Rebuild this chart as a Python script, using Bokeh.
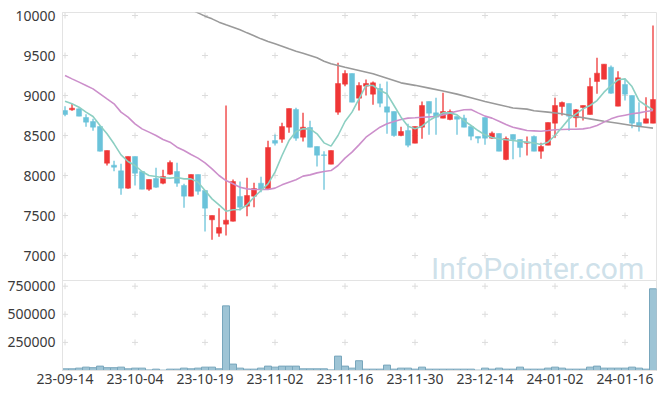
from bokeh.plotting import figure
from bokeh.models import Range1d, ColumnDataSource, Label, FixedTicker, Span
from bokeh.embed import file_html
from bokeh.resources import INLINE

# ---------------- data ----------------
opens = [8812, 8821, 8833, 8725, 8675, 8612, 8154, 8129, 8058, 7842, 8238, 8050, 7829, 7962, 7904, 8017, 8050,
         7875, 7742, 8012, 7812, 7446, 7279, 7392, 7429, 7737, 7617, 7742, 7904, 7833, 8437, 8454, 8604, 8825,
         8479, 8600, 8362, 8258, 8142, 8792, 9142, 9275, 8967, 9117, 9017, 9087, 8858, 8800, 8500, 8562, 8404,
         8604, 8925, 8783, 8717, 8700, 8737, 8717, 8612, 8487, 8725, 8467, 8525, 8200, 8512, 8450, 8404, 8488,
         8304, 8379, 8654, 8862, 8900, 8721, 8850, 8762, 9175, 9204, 9354, 8867, 9137, 9000, 8662, 8654, 8654]
highs = [8867, 8896, 8840, 8767, 8708, 8625, 8312, 8183, 8146, 8238, 8238, 8050, 7950, 8096, 8071, 8188, 8158,
         7896, 8012, 8012, 7812, 7500, 7592, 8875, 7950, 7925, 7971, 7908, 7983, 8433, 8512, 8658, 8837, 8846,
         8783, 8683, 8362, 8304, 8312, 9408, 9317, 9275, 9167, 9200, 9175, 9146, 9175, 8800, 8608, 8646, 8612,
         8925, 8925, 8971, 9033, 8825, 8737, 8758, 8612, 8487, 8725, 8550, 8525, 8488, 8512, 8450, 8488, 8500,
         8408, 8662, 8971, 8925, 8900, 8830, 8875, 9221, 9471, 9392, 9375, 9304, 9212, 9000, 8917, 8979, 9875]
lows = [8742, 8808, 8740, 8608, 8558, 8300, 8125, 8054, 7758, 7833, 7875, 7829, 7808, 7846, 7892, 8008, 7858,
        7596, 7742, 7758, 7300, 7196, 7233, 7250, 7425, 7562, 7492, 7604, 7792, 7833, 8375, 8408, 8533, 8433,
        8425, 8354, 8112, 7821, 8142, 8758, 9117, 8917, 8812, 9000, 8883, 8854, 8521, 8483, 8492, 8354, 8404,
        8458, 8508, 8508, 8717, 8690, 8508, 8604, 8442, 8404, 8383, 8458, 8304, 8192, 8204, 8229, 8250, 8304,
        8208, 8379, 8471, 8750, 8558, 8604, 8687, 8762, 9021, 9204, 9021, 8867, 8937, 8592, 8550, 8654, 8654]
closes = [8762, 8842, 8742, 8667, 8604, 8304, 8312, 8104, 7842, 8238, 8029, 7829, 7950, 7854, 7988, 8162, 7904,
          7742, 8012, 7804, 7592, 7500, 7350, 7442, 7925, 7604, 7750, 7837, 7825, 8350, 8404, 8612, 8837, 8467,
          8604, 8354, 8254, 8250, 8312, 9150, 9275, 8917, 9125, 9150, 9158, 8904, 8792, 8500, 8550, 8379, 8612,
          8875, 8779, 8729, 8800, 8800, 8704, 8604, 8492, 8467, 8467, 8529, 8304, 8462, 8450, 8350, 8417, 8304,
          8362, 8662, 8875, 8912, 8742, 8821, 8875, 9112, 9279, 9392, 9029, 9221, 9017, 8654, 8612, 8708, 8950]
volumes = [15000, 15000, 21000, 30000, 25000, 39000, 25000, 25000, 30000, 15000, 21000, 21000,
           5000, 12000, 3000, 12000, 12000, 21000, 15000, 21000, 30000, 30000, 15000, 575000,
           57000, 21000, 12000, 12000, 21000, 39000, 30000, 39000, 39000, 39000, 15000, 15000, 15000, 15000, 5000,
           128000, 39000, 21000, 87000, 12000, 12000, 12000, 48000, 12000, 21000, 21000, 12000,
           30000, 12000, 12000, 12000, 12000, 12000, 12000, 12000, 3000, 21000, 12000, 21000,
           12000, 12000, 30000, 12000, 12000, 12000, 21000, 30000, 21000, 12000, 12000, 12000,
           30000, 39000, 21000, 21000, 21000, 21000, 30000, 21000, 12000, 727000]
ma5 = [8929, 8896, 8854, 8792, 8737, 8625, 8521, 8396, 8258, 8175, 8125, 8050, 8000, 7987, 7971, 7967, 7975,
       7958, 7958, 7917, 7812, 7708, 7633, 7554, 7571, 7575, 7633, 7729, 7812, 7896, 8042, 8250, 8437, 8550,
       8583, 8583, 8521, 8408, 8367, 8500, 8675, 8792, 8958, 9125, 9125, 9062, 9021, 8875, 8729, 8617, 8583,
       8617, 8687, 8737, 8783, 8783, 8758, 8687, 8625, 8562, 8508, 8475, 8458, 8446, 8437, 8425, 8417, 8406,
       8387, 8417, 8500, 8604, 8708, 8771, 8833, 8875, 8937, 9042, 9125, 9196, 9208, 9112, 8937, 8875, 8821]
ma20 = [9250, 9208, 9167, 9125, 9083, 9021, 8958, 8896, 8792, 8729, 8646, 8583, 8542, 8500, 8450, 8417, 8354,
        8312, 8262, 8217, 8158, 8083, 8000, 7937, 7896, 7854, 7833, 7825, 7825, 7825, 7842, 7883, 7917, 7946,
        7992, 8008, 8033, 8050, 8062, 8125, 8217, 8292, 8383, 8479, 8542, 8604, 8646, 8675, 8700, 8717, 8721,
        8729, 8733, 8737, 8758, 8783, 8804, 8821, 8825, 8783, 8742, 8717, 8679, 8637, 8604, 8583, 8562, 8558,
        8554, 8562, 8571, 8575, 8579, 8579, 8583, 8596, 8625, 8667, 8708, 8737, 8754, 8771, 8783, 8800, 8812]
ma60_idx = [18, 19, 20, 21, 22, 23, 24, 25, 26, 27, 28, 29, 30, 31, 32, 33, 34, 35, 36, 37, 38, 39, 40,
            42, 44, 46, 48, 50, 52, 54, 56, 58, 60, 62, 64, 66, 67, 69, 71, 73, 75, 77, 79, 81, 83, 84]
ma60 = [10075, 10033, 9992, 9958, 9917, 9883, 9854, 9821, 9783, 9746, 9708, 9675, 9646, 9617, 9583, 9554,
        9529, 9500, 9471, 9429, 9396, 9375, 9352, 9312, 9271, 9217, 9158, 9127, 9092, 9056, 9017, 8971, 8925,
        8885, 8844, 8830, 8810, 8792, 8771, 8737, 8708, 8679, 8654, 8625, 8604, 8592]
tick_positions = [0, 10, 20, 30, 40, 50, 60, 70, 80]
tick_labels = ["23-09-14", "23-10-04", "23-10-19", "23-11-02", "23-11-16",
               "23-11-30", "23-12-14", "24-01-02", "24-01-16"]
price_ticks = [7000, 7500, 8000, 8500, 9000, 9500, 10000]
volume_ticks = [250000, 500000, 750000]
watermark = "InfoPointer.com"

# ---------------- styling / layout ----------------
RED = "#ef3636"
BLUE = "#6ac3da"
FONT = "Noto Sans"
LABEL_COLOR = "#3a3a3a"
LINE_COLOR = "#e3e3e3"

PRICE_LO, PRICE_HI = 5562.5, 10037.5     # whole frame in price units
PANEL_SPLIT = 6687.5                      # price value at the panel divider
VOL_HI = 3185000                          # whole frame in volume units

idx = list(range(len(closes)))
colors = [RED if c >= o else BLUE for o, c in zip(opens, closes)]
tops = [max(o, c) for o, c in zip(opens, closes)]
bottoms = [min(o, c) for o, c in zip(opens, closes)]
src = ColumnDataSource(dict(x=idx, h=highs, l=lows, top=tops, bottom=bottoms, color=colors,
                            vol=volumes, ma5=ma5, ma20=ma20))

p = figure(frame_width=594, frame_height=358, min_border_left=62, min_border_right=9,
           min_border_top=12, min_border_bottom=26, x_range=Range1d(-0.36, 84.5),
           y_range=Range1d(PRICE_LO, PRICE_HI), output_backend="svg", toolbar_location=None,
           background_fill_color="white")
p.extra_y_ranges = {"vol": Range1d(0, VOL_HI)}
p.xgrid.grid_line_color = None
p.ygrid.grid_line_color = None
p.outline_line_color = LINE_COLOR

# panel divider
p.add_layout(Span(location=PANEL_SPLIT, dimension="width", line_color=LINE_COLOR, line_width=1))

# grid crosses
cx = [t for t in tick_positions for _ in price_ticks]
cy = [val for _ in tick_positions for val in price_ticks]
p.scatter(cx, cy, marker="cross", size=6, line_color="#dcdcdc", line_width=1)
vx = [t for t in tick_positions for _ in volume_ticks]
vy = [val for _ in tick_positions for val in volume_ticks]
p.scatter(vx, vy, marker="cross", size=6, line_color="#dcdcdc", line_width=1, y_range_name="vol")

# candles
p.segment(x0="x", y0="l", x1="x", y1="h", source=src, line_color="color", line_width=1.3)
p.vbar(x="x", top="top", bottom="bottom", width=0.72, source=src, fill_color="color", line_color="color",
       line_width=0.5)

# moving averages
p.line(ma60_idx, ma60, line_color="#9a9a9a", line_width=1.6)
p.line("x", "ma20", source=src, line_color="#cc8fcb", line_width=1.6)
p.line("x", "ma5", source=src, line_color="#8ccfc2", line_width=1.6)

# volume
p.vbar(x="x", top="vol", bottom=0, width=1.0, source=src, fill_color="#9ec4d5", line_color="#78a6bc",
       line_width=1, y_range_name="vol")

p.add_layout(Label(x=52.3, y=6842, text=watermark, text_font="Roboto", text_font_size="30px",
                   text_color="#c9dde8", text_alpha=0.9, text_baseline="alphabetic"))

# left axis: price ticks plus volume ticks (positioned through the two ranges)
vol_tick_pos = [PRICE_LO + vt * (PRICE_HI - PRICE_LO) / VOL_HI for vt in volume_ticks]
overrides = {float(t): str(t) for t in price_ticks}
overrides.update({pos: str(vt) for pos, vt in zip(vol_tick_pos, volume_ticks)})
p.yaxis.ticker = FixedTicker(ticks=[float(t) for t in price_ticks] + vol_tick_pos)
p.yaxis.major_label_overrides = overrides

p.xaxis.ticker = FixedTicker(ticks=tick_positions)
p.xaxis.major_label_overrides = {t: lab for t, lab in zip(tick_positions, tick_labels)}

for ax in list(p.yaxis) + list(p.xaxis):
    ax.axis_line_color = LINE_COLOR
    ax.major_tick_line_color = None
    ax.minor_tick_line_color = None
    ax.major_tick_out = 0
    ax.major_label_text_font = FONT
    ax.major_label_text_font_size = "14px"
    ax.major_label_text_color = LABEL_COLOR
for ax in p.yaxis:
    ax.major_label_standoff = 7
for ax in p.xaxis:
    ax.major_label_standoff = 3

open("out.html", "w").write(file_html(p, INLINE))
